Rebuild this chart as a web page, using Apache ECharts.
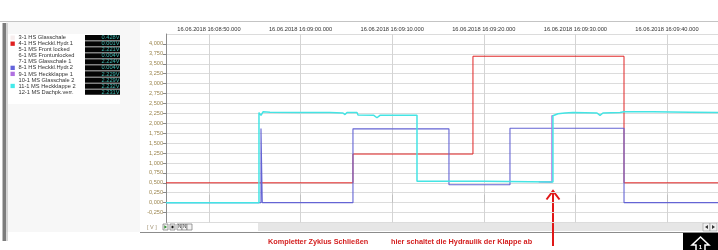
<!DOCTYPE html>
<html><head><meta charset="utf-8">
<script src="https://cdn.jsdelivr.net/npm/echarts@6/dist/echarts.min.js"></script>
<style>html,body{margin:0;padding:0;background:#fff}#c{width:718px;height:250px}</style>
</head><body><div id="c"></div>
<script>
// time in seconds after 16:08:00 (16.06.2018)
const redTime = [45.31, 65.72, 65.72, 78.82, 78.82, 95.31, 95.31, 105.57];
const redVal  = [0.50, 0.50, 1.225, 1.225, 3.69, 3.69, 0.50, 0.50];

const blueTime = [45.31, 55.68, 55.68, 55.82, 55.82, 65.72, 65.72, 76.20, 76.20, 82.86, 82.86, 95.31, 95.31, 105.57];
const blueVal  = [0, 0, 1.87, 1.87, 0, 0, 1.86, 1.86, 0.45, 0.45, 1.875, 1.875, 0, 0];

// violet is hidden under cyan except at its slightly earlier rise
const violetTime = [86.00, 87.44, 87.44, 87.55];
const violetVal  = [0.525, 0.521, 2.19, 2.19];

const cyanTime = [45.31, 55.46, 55.46, 55.57, 55.68, 55.90, 56.66, 59.93, 63.20, 64.63, 64.85, 65.07, 66.16, 66.27, 68.00, 68.34, 68.67, 72.71,
                  72.71, 80.00, 87.55, 87.55, 88.10, 88.86, 89.74, 92.36, 92.69, 93.01, 94.87, 95.31, 97.93, 98.14, 98.47, 102.50, 105.57];
const cyanVal  = [0, 0, 2.27, 2.27, 2.20, 2.29, 2.28, 2.27, 2.27, 2.26, 2.22, 2.27, 2.27, 2.21, 2.20, 2.14, 2.20, 2.20,
                  0.54, 0.54, 0.52, 2.19, 2.24, 2.26, 2.27, 2.26, 2.20, 2.26, 2.27, 2.29, 2.29, 2.25, 2.29, 2.28, 2.27];

const legendNames = ['3-1 HS Glasschale','4-1 HS Heckkl.Hydr.1','5-1 MS Front locked','6-1 MS Frontunlocked','7-1 MS Glasschale 1','8-1 HS Heckkl.Hydr.2','9-1 MS Heckklappe 1','10-1 MS Glasschale 2','11-1 MS Heckklappe 2','12-1 MS Dachpk.verr.'];
const legendValues = ['0.428V','0.001V','2.221V','0.004V','2.224V','0.004V','2.229V','2.229V','2.232V','2.231V'];
const legendColors = ['#f7eded','#e02020',null,null,null,'#6464dc','#b070e0',null,'#44eaea',null];

const note1 = 'Kompletter Zyklus Schließen';
const note2 = 'hier schaltet die Hydraulik der Klappe ab';

const FONT = 'Liberation Sans, Arial, sans-serif';
const pair = (t, v) => t.map((x, i) => [x, v[i]]);
const pad = n => (n < 10 ? '0' : '') + n;

const g = [];
// top frame line
g.push({type:'line', shape:{x1:0,y1:21.5,x2:718,y2:21.5}, style:{stroke:'#c4c4c4',lineWidth:1}});
// left panel
g.push({type:'rect', shape:{x:6,y:22,width:134,height:210}, style:{fill:'#f7f7f7'}});
g.push({type:'rect', shape:{x:8,y:34,width:112,height:70}, style:{fill:'#ffffff'}});
g.push({type:'rect', shape:{x:2.5,y:23,width:3.5,height:218}, style:{fill:'#7c7c7c'}});
g.push({type:'line', shape:{x1:7,y1:23,x2:7,y2:241}, style:{stroke:'#b0b0b0',lineWidth:1}});
legendNames.forEach((n, i) => {
  const y = 37.7 + i * 6.04;
  if (legendColors[i]) g.push({type:'rect', shape:{x:10.5,y:y-2.2,width:4.3,height:4.3}, style:{fill:legendColors[i]}});
  g.push({type:'text', x:18.5, y:y, style:{text:n, font:'5.7px '+FONT, fill:'#333', textVerticalAlign:'middle', textAlign:'left'}});
  g.push({type:'rect', shape:{x:85,y:y-2.6,width:35,height:5.3}, style:{fill:'#050505'}});
  g.push({type:'text', x:119.5, y:y, style:{text:legendValues[i], font:'5.7px '+FONT, fill:'#3fb8b0', textVerticalAlign:'middle', textAlign:'right'}});
});
// bottom bar
g.push({type:'text', x:147, y:227.5, style:{text:'[ V ]', font:'5.5px '+FONT, fill:'#a09070', textVerticalAlign:'middle'}});
[163, 170, 177, 182, 187].forEach((x, i) => {
  g.push({type:'rect', shape:{x:x,y:224,width:5,height:6}, style:{fill:'#f4f4f4',stroke:'#777',lineWidth:0.7}});
});
g.push({type:'polygon', shape:{points:[[164.3,225.2],[164.3,228.8],[167,227]]}, style:{fill:'#2a8a2a'}});
g.push({type:'rect', shape:{x:171.5,y:225.7,width:2,height:2.6}, style:{fill:'#111'}});
g.push({type:'text', x:179.5, y:227, style:{text:'N', font:'4.5px '+FONT, fill:'#333', textAlign:'center', textVerticalAlign:'middle'}});
g.push({type:'text', x:184.5, y:227, style:{text:'N', font:'4.5px '+FONT, fill:'#333', textAlign:'center', textVerticalAlign:'middle'}});
g.push({type:'rect', shape:{x:258,y:223,width:445,height:8}, style:{fill:'#e6e6e6'}});
g.push({type:'rect', shape:{x:703,y:223,width:7,height:8}, style:{fill:'#f0f0f0',stroke:'#999',lineWidth:0.6}});
g.push({type:'rect', shape:{x:710,y:223,width:7,height:8}, style:{fill:'#f0f0f0',stroke:'#999',lineWidth:0.6}});
g.push({type:'polygon', shape:{points:[[708,225],[708,229],[705,227]]}, style:{fill:'#333'}});
g.push({type:'polygon', shape:{points:[[712,225],[712,229],[715,227]]}, style:{fill:'#333'}});
g.push({type:'line', shape:{x1:140,y1:232.5,x2:718,y2:232.5}, style:{stroke:'#8c8c8c',lineWidth:1}});
// notes
g.push({type:'text', x:268, y:241.5, style:{text:note1, font:'bold 7.3px '+FONT, fill:'#d42020', textVerticalAlign:'middle'}});
g.push({type:'text', x:391, y:241.5, style:{text:note2, font:'bold 7.3px '+FONT, fill:'#d42020', textVerticalAlign:'middle'}});
// arrow
g.push({type:'line', shape:{x1:553,y1:246,x2:553,y2:192}, style:{stroke:'#e01818',lineWidth:2}});
g.push({type:'polyline', shape:{points:[[546.5,199.5],[553,191],[559.5,199.5]]}, style:{stroke:'#e01818',lineWidth:2,fill:null}});
// icon
g.push({type:'rect', shape:{x:683,y:233,width:35,height:17}, style:{fill:'#000'}});
g.push({type:'polygon', shape:{points:[[700.5,237],[692,245],[696,245],[696,252],[705,252],[705,245],[709,245]]}, style:{fill:null,stroke:'#fff',lineWidth:1.5}});
g.push({type:'text', x:700.5, y:247.5, style:{text:'1', font:'bold 6px '+FONT, fill:'#fff', textAlign:'center', textVerticalAlign:'middle'}});

const chart = echarts.init(document.getElementById('c'), null, {renderer:'canvas'});
chart.setOption({
  animation: false,
  backgroundColor: '#ffffff',
  grid: {left:166, right:0, top:34, bottom:27.5, containLabel:false},
  xAxis: {
    type:'value', position:'top', min:45.31, max:105.57, splitNumber:6, minInterval:10, maxInterval:10,
    axisLine:{show:false},
    axisTick:{show:true, length:8, lineStyle:{color:'#c0c0c0'}},
    axisLabel:{showMinLabel:false, showMaxLabel:false, margin:2, fontSize:5.7, fontFamily:FONT, color:'#333',
      formatter: v => { const s = Math.round(v); return '16.06.2018 16:' + pad(8 + Math.floor(s/60)) + ':' + pad(s % 60) + '.000'; }},
    splitLine:{show:true, lineStyle:{color:'#d4d4d4', width:1}}
  },
  yAxis: {
    type:'value', min:-0.5, max:4.25, interval:0.25,
    axisLine:{show:true, lineStyle:{color:'#8a8a8a'}},
    axisTick:{show:true, length:3, lineStyle:{color:'#8a8a8a'}},
    axisLabel:{showMinLabel:false, showMaxLabel:false, margin:3, fontSize:5.6, fontFamily:FONT, color:'#9c8650',
      formatter: v => v.toFixed(3).replace('.', ',')},
    splitLine:{show:true, lineStyle:{color:'#dcdcdc', width:1}}
  },
  series: [
    {name:'4-1 HS Heckkl.Hydr.1', type:'line', data:pair(redTime, redVal), showSymbol:false, symbol:'none', lineStyle:{color:'#e02424', width:1}},
    {name:'8-1 HS Heckkl.Hydr.2', type:'line', data:pair(blueTime, blueVal), showSymbol:false, symbol:'none', lineStyle:{color:'#6464d4', width:1.1}},
    {name:'9-1 MS Heckklappe 1', type:'line', data:pair(violetTime, violetVal), showSymbol:false, symbol:'none', lineStyle:{color:'#b070e0', width:1.3}},
    {name:'11-1 MS Heckklappe 2', type:'line', data:pair(cyanTime, cyanVal), showSymbol:false, symbol:'none', lineStyle:{color:'#44e4e4', width:1.5}}
  ],
  graphic: g
});
</script></body></html>
